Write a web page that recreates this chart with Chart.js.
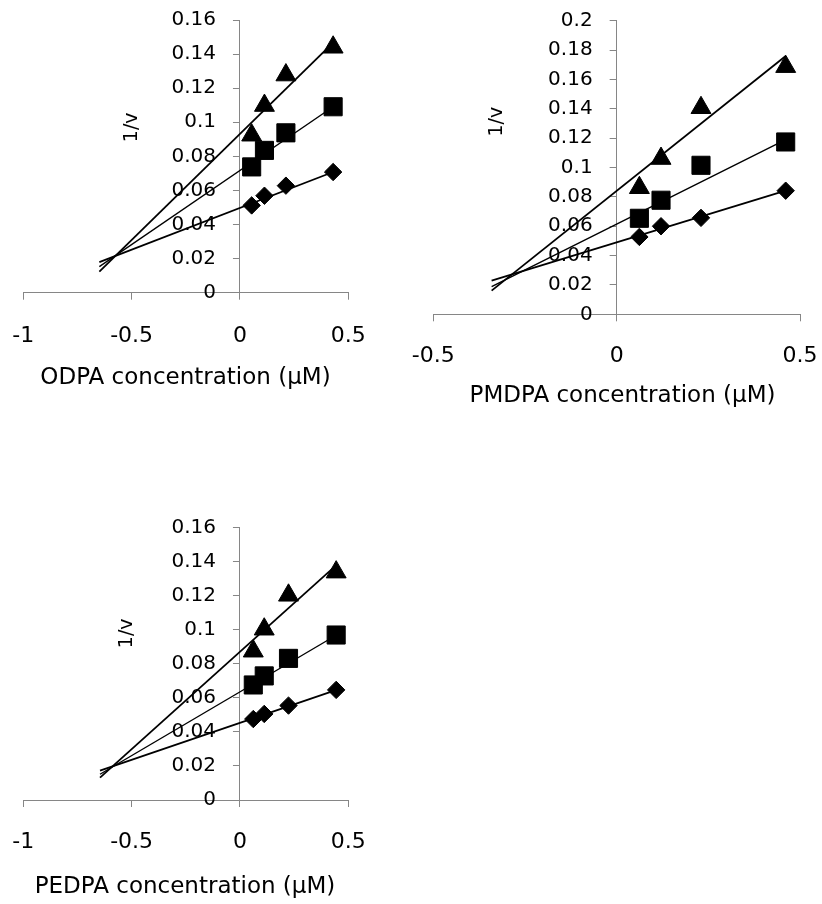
<!DOCTYPE html>
<html>
<head>
<meta charset="utf-8">
<script src="https://cdn.jsdelivr.net/npm/chart.js@4.4.1/dist/chart.umd.min.js"></script>
<style>
    html, body { margin: 0; padding: 0; background: #fff; }
    body { width: 822px; height: 904px; position: relative; overflow: hidden; }
    canvas { position: absolute; }
    #odpaChart { left: 0; top: 0; }
    #pmdpaChart { left: 410px; top: 0; }
    #pedpaChart { left: 0; top: 420px; }
</style>
</head>
<body>
<canvas id="odpaChart" width="400" height="420"></canvas>
<canvas id="pmdpaChart" width="412" height="420"></canvas>
<canvas id="pedpaChart" width="400" height="484"></canvas>
<script>
// ODPA
const odpaConc = [0.054, 0.113, 0.212, 0.43];
const odpaDiamond = [0.0512, 0.0569, 0.0628, 0.0708];
const odpaSquare = [0.0738, 0.0835, 0.0938, 0.1091];
const odpaTriangle = [0.0924, 0.1098, 0.1277, 0.144];
const odpaFitX = [-0.649, 0.43];
const odpaFitDiamond = [0.0179, 0.0708];
const odpaFitSquare = [0.0153, 0.1091];
const odpaFitTriangle = [0.0124, 0.1467];

// PMDPA
const pmdpaConc = [0.062, 0.121, 0.23, 0.461];
const pmdpaDiamond = [0.0527, 0.06, 0.0657, 0.0842];
const pmdpaSquare = [0.0654, 0.0777, 0.1015, 0.1174];
const pmdpaTriangle = [0.0862, 0.1061, 0.1407, 0.1687];
const pmdpaFitX = [-0.341, 0.461];
const pmdpaFitDiamond = [0.0229, 0.0842];
const pmdpaFitSquare = [0.0188, 0.119];
const pmdpaFitTriangle = [0.0161, 0.176];

// PEDPA
const pedpaConc = [0.0615, 0.112, 0.224, 0.444];
const pedpaDiamond = [0.0475, 0.0505, 0.0554, 0.0646];
const pedpaSquare = [0.0675, 0.0728, 0.0831, 0.0968];
const pedpaTriangle = [0.0873, 0.1002, 0.1201, 0.1337];
const pedpaFitX = [-0.646, 0.446];
const pedpaFitDiamond = [0.0172, 0.0646];
const pedpaFitSquare = [0.0151, 0.0968];
const pedpaFitTriangle = [0.0131, 0.138];

// tick labels
const wideXTicks = [-1, -0.5, 0, 0.5];
const narrowXTicks = [-0.5, 0, 0.5];
const yTicks16 = [0, 0.02, 0.04, 0.06, 0.08, 0.1, 0.12, 0.14, 0.16];
const yTicks20 = [0, 0.02, 0.04, 0.06, 0.08, 0.1, 0.12, 0.14, 0.16, 0.18, 0.2];

const AXIS_GREY = '#868686';
Chart.defaults.font.family = '"DejaVu Sans", sans-serif';
Chart.defaults.color = '#000';

function toPoints(xs, ys) {
    return xs.map((x, i) => ({ x: x, y: ys[i] }));
}

function tickLabel(v) {
    return String(Number(v.toFixed(2)));
}

// axes take no room, chart area comes from layout padding only
function noRoom(s) {
    if (s.isHorizontal()) {
        s.height = 0;
    } else {
        s.width = 0;
    }
    s.paddingLeft = 0;
    s.paddingRight = 0;
    s.paddingTop = 0;
    s.paddingBottom = 0;
}

// move both axes so they cross at 0
const crossAxes = {
    id: 'crossAxes',
    afterLayout(chart) {
        const x = chart.scales.x;
        const y = chart.scales.y;
        const px = x.getPixelForValue(0);
        const py = y.getPixelForValue(0);
        y.left = 0;
        y.right = px;
        x.top = py;
        x.bottom = chart.height;
    },
};

const axisTitles = {
    id: 'axisTitles',
    afterDraw(chart, args, opts) {
        const ctx = chart.ctx;
        ctx.save();
        ctx.fillStyle = '#000';
        ctx.textAlign = 'center';
        ctx.textBaseline = 'middle';
        ctx.font = '23px "DejaVu Sans"';
        ctx.fillText(opts.xText, opts.xPos[0], opts.xPos[1]);
        ctx.translate(opts.yPos[0], opts.yPos[1]);
        ctx.rotate(-Math.PI / 2);
        ctx.font = '19px "DejaVu Sans"';
        ctx.fillText(opts.yText, 0, 0);
        ctx.restore();
    },
};

function buildDatasets(conc, diamond, square, triangle, fitX, fitD, fitS, fitT) {
    const mark = (ys, style, r) => ({
        data: toPoints(conc, ys),
        pointStyle: style,
        pointRadius: r,
        backgroundColor: '#000',
        borderColor: '#000',
        borderWidth: 1,
        showLine: false,
    });
    const fit = (ys, w) => ({
        data: toPoints(fitX, ys),
        showLine: true,
        pointRadius: 0,
        borderColor: '#000',
        borderWidth: w,
        fill: false,
    });
    return [
        mark(diamond, 'rectRot', 8.7),
        mark(square, 'rect', 12.8),
        mark(triangle, 'triangle', 11.5),
        fit(fitD, 1.8),
        fit(fitS, 1.4),
        fit(fitT, 1.8),
    ];
}

function buildScales(xTicks, yTicks, xPad) {
    return {
        x: {
            type: 'linear',
            position: 'bottom',
            min: xTicks[0],
            max: xTicks[xTicks.length - 1],
            afterBuildTicks: (s) => { s.ticks = xTicks.map((v) => ({ value: v })); },
            afterFit: noRoom,
            grid: { drawOnChartArea: false, color: AXIS_GREY, tickLength: 7, lineWidth: 1 },
            border: { color: AXIS_GREY, width: 1 },
            ticks: { callback: tickLabel, font: { size: 22 }, padding: xPad, maxRotation: 0, autoSkip: false },
        },
        y: {
            type: 'linear',
            position: 'left',
            min: yTicks[0],
            max: yTicks[yTicks.length - 1],
            afterBuildTicks: (s) => { s.ticks = yTicks.map((v) => ({ value: v })); },
            afterFit: noRoom,
            grid: { drawOnChartArea: false, color: AXIS_GREY, tickLength: 7, lineWidth: 1 },
            border: { color: AXIS_GREY, width: 1 },
            ticks: { callback: tickLabel, font: { size: 20 }, padding: 17, autoSkip: false },
        },
    };
}

function makeChart(id, datasets, scales, padding, titles) {
    const ctx = document.getElementById(id).getContext('2d');
    return new Chart(ctx, {
        type: 'scatter',
        data: { datasets: datasets },
        options: {
            responsive: false,
            maintainAspectRatio: false,
            animation: false,
            events: [],
            layout: { padding: padding },
            scales: scales,
            plugins: {
                legend: { display: false },
                tooltip: { enabled: false },
                axisTitles: titles,
            },
        },
        plugins: [crossAxes, axisTitles],
    });
}

makeChart(
    'odpaChart',
    buildDatasets(odpaConc, odpaDiamond, odpaSquare, odpaTriangle, odpaFitX, odpaFitDiamond, odpaFitSquare, odpaFitTriangle),
    buildScales(wideXTicks, yTicks16, 23.5),
    { left: 23.3, right: 51.7, top: 20, bottom: 127.3 },
    { xText: 'ODPA concentration (μM)', xPos: [185.5, 377.7], yText: '1/v', yPos: [131.7, 127.3] }
);

makeChart(
    'pmdpaChart',
    buildDatasets(pmdpaConc, pmdpaDiamond, pmdpaSquare, pmdpaTriangle, pmdpaFitX, pmdpaFitDiamond, pmdpaFitSquare, pmdpaFitTriangle),
    buildScales(narrowXTicks, yTicks20, 22),
    { left: 23.3, right: 22, top: 20.7, bottom: 105.7 },
    { xText: 'PMDPA concentration (μM)', xPos: [212.5, 396], yText: '1/v', yPos: [86.7, 121.7] }
);

makeChart(
    'pedpaChart',
    buildDatasets(pedpaConc, pedpaDiamond, pedpaSquare, pedpaTriangle, pedpaFitX, pedpaFitDiamond, pedpaFitSquare, pedpaFitTriangle),
    buildScales(wideXTicks, yTicks16, 22),
    { left: 23.3, right: 51.7, top: 107.3, bottom: 104 },
    { xText: 'PEDPA concentration (μM)', xPos: [185, 466.7], yText: '1/v', yPos: [126.7, 213.3] }
);
</script>
</body>
</html>
